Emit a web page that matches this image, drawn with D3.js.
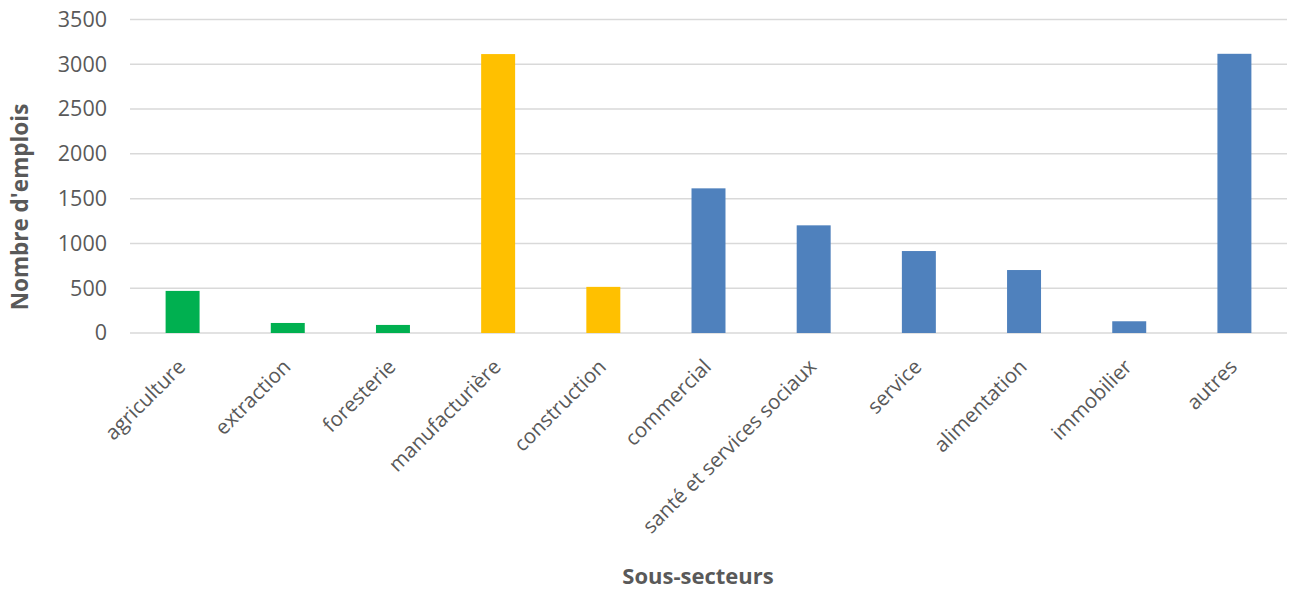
<!DOCTYPE html>
<html><head><meta charset="utf-8">
<script src="https://cdn.jsdelivr.net/npm/d3@7"></script>
<style>body{margin:0;background:#fff}svg{display:block}</style>
</head><body>
<svg id="c" width="1291" height="589"></svg>
<script>
const categories = ["agriculture","extraction","foresterie","manufacturière","construction","commercial","santé et services sociaux","service","alimentation","immobilier","autres"];
const values = [470, 112, 90, 3114, 515, 1615, 1202, 915, 703, 131, 3117];
const groups = ["primaire","primaire","primaire","secondaire","secondaire","tertiaire","tertiaire","tertiaire","tertiaire","tertiaire","tertiaire"];
const yTicks = [0,500,1000,1500,2000,2500,3000,3500];
const groupColors = {primaire:"#00B050", secondaire:"#FFC000", tertiaire:"#4F81BD"};

const font = "'Open Sans', sans-serif";
const svg = d3.select("#c");
const m = {left:130, right:1287, top:19.5, bottom:333};
const x = d3.scaleBand().domain(categories).range([m.left, m.right]).paddingInner(0.677).paddingOuter(0.3385);
const y = d3.scaleLinear().domain([0,3500]).range([m.bottom, m.top]);

// gridlines
svg.append("g").selectAll("line").data(yTicks).join("line")
  .attr("x1", m.left).attr("x2", m.right)
  .attr("y1", d=>y(d)).attr("y2", d=>y(d))
  .attr("stroke", "#D9D9D9").attr("stroke-width", 1.5);

// y axis labels
const ya = svg.append("g").attr("transform", `translate(${m.left-23},0)`)
  .call(d3.axisLeft(y).tickValues(yTicks).tickFormat(d3.format("d")).tickSize(0).tickPadding(0));
ya.select(".domain").remove();
ya.selectAll("text").attr("font-family", font).attr("font-size", 21.5).attr("fill", "#595959");

// bars
svg.append("g").selectAll("rect").data(categories).join("rect")
  .attr("x", d=>x(d)).attr("width", x.bandwidth())
  .attr("y", (d,i)=>y(values[i])).attr("height", (d,i)=>y(0)-y(values[i]))
  .attr("fill", (d,i)=>groupColors[groups[i]]);

// x labels
const xa = svg.append("g").attr("transform", `translate(0,${m.bottom})`)
  .call(d3.axisBottom(x).tickSize(0).tickPadding(0));
xa.select(".domain").remove();
xa.selectAll("text")
  .attr("font-family", font).attr("font-size", 20.5).attr("fill", "#595959")
  .attr("text-anchor", "end")
  .attr("dy", null).attr("y", 0)
  .attr("transform", "translate(4,35) rotate(-45)");

// axis titles
svg.append("text").attr("x", 698).attr("y", 584)
  .attr("text-anchor", "middle").attr("font-family", font).attr("font-weight", "bold")
  .attr("font-size", 22).attr("fill", "#595959").text("Sous-secteurs");
svg.append("text").attr("transform", "translate(28,207) rotate(-90)")
  .attr("text-anchor", "middle").attr("font-family", font).attr("font-weight", "bold")
  .attr("font-size", 22.5).attr("fill", "#595959").text("Nombre d'emplois");
</script>
</body></html>
